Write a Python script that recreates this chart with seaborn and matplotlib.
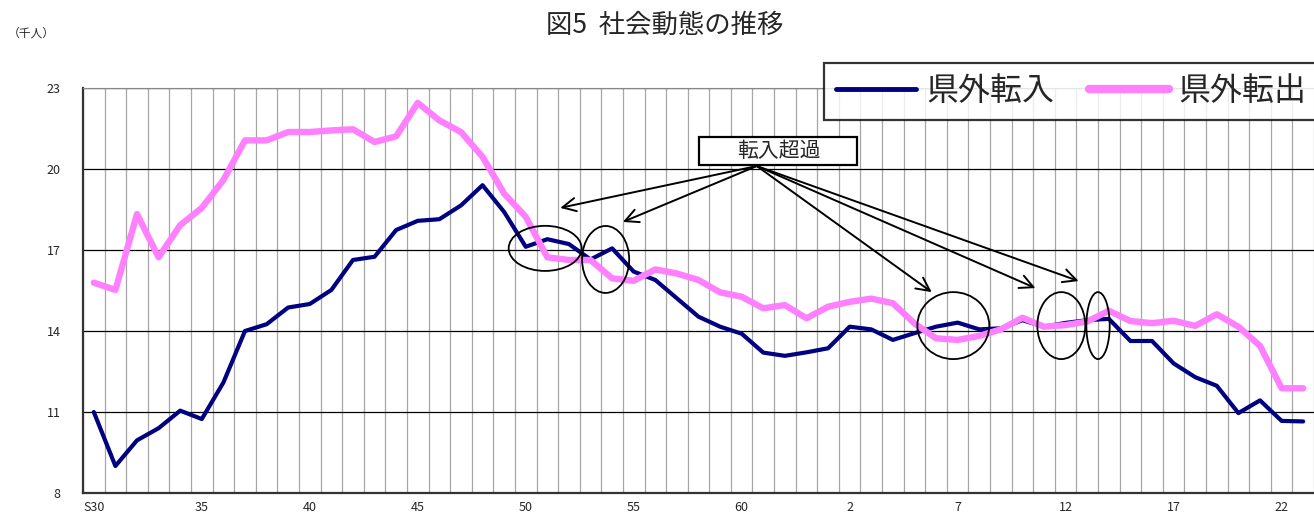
import numpy as np
import pandas as pd
import seaborn as sns
import matplotlib.pyplot as plt
from matplotlib.patches import Ellipse, Rectangle
from matplotlib.lines import Line2D

sns.set_style('white')
plt.rcParams['font.family'] = ['Noto Sans CJK JP', 'DejaVu Sans']
plt.rcParams['axes.unicode_minus'] = False

# 年次ラベル（S30〜S63, H1〜H23）
years = ['S30'] + [str(y) for y in range(31, 64)] + [str(y) for y in range(1, 24)]

# 県外転入（千人）
tennyu = [11.0, 9.0, 9.95, 10.4, 11.05, 10.74, 12.09, 14.0, 14.25, 14.87,
          15.0, 15.52, 16.63, 16.75, 17.74, 18.08, 18.14, 18.65, 19.4, 18.41,
          17.12, 17.4, 17.22, 16.65, 17.06, 16.2, 15.89, 15.21, 14.53, 14.16,
          13.9, 13.2, 13.08, 13.21, 13.36, 14.16, 14.06, 13.67, 13.92, 14.16,
          14.31, 14.06, 14.1, 14.4, 14.16, 14.3, 14.4, 14.45, 13.63, 13.63,
          12.8, 12.29, 11.97, 10.96, 11.43, 10.67, 10.65]

# 県外転出（千人）
tenshutsu = [15.79, 15.52, 18.33, 16.73, 17.92, 18.56, 19.59, 21.06, 21.06, 21.37,
             21.37, 21.43, 21.47, 21.0, 21.21, 22.45, 21.8, 21.37, 20.45, 19.09,
             18.23, 16.73, 16.63, 16.63, 15.95, 15.86, 16.28, 16.13, 15.89, 15.43,
             15.27, 14.84, 14.96, 14.47, 14.9, 15.08, 15.2, 15.03, 14.28, 13.73,
             13.67, 13.82, 14.06, 14.49, 14.16, 14.22, 14.35, 14.75, 14.37, 14.29,
             14.38, 14.19, 14.62, 14.16, 13.45, 11.88, 11.88]

df = pd.DataFrame({'idx': np.arange(len(years)), '転入': tennyu, '転出': tenshutsu})

fig = plt.figure(figsize=(13.14, 5.17), dpi=100)
ax = fig.add_axes([83 / 1314, 1 - 493 / 517, 1 - 83 / 1314, (493 - 88) / 517])

# 転出を上に重ねる（元図と同じ重なり順）
sns.lineplot(data=df, x='idx', y='転入', color='#000080', linewidth=3.0, ax=ax, zorder=3)
sns.lineplot(data=df, x='idx', y='転出', color='#FF80FF', linewidth=4.6, ax=ax, zorder=4)

ax.set_xlim(-0.5, len(years) - 0.5)
ax.set_ylim(8, 23)
ax.set_yticks([8, 11, 14, 17, 20, 23])
ax.set_xticks(np.arange(0, len(years), 5))
ax.set_xticklabels(years[::5])
ax.set_xticks(np.arange(-0.5, len(years), 1), minor=True)
ax.tick_params(axis='both', which='major', length=0, labelsize=9)
ax.tick_params(axis='x', which='major', pad=6)
ax.tick_params(axis='y', which='major', pad=16)
ax.tick_params(axis='x', which='minor', direction='in', length=4, width=1, color='#333333')
ax.grid(True, axis='x', which='minor', color='#A6A6A6', linewidth=0.9)
ax.grid(True, axis='y', which='major', color='black', linewidth=0.9)
ax.set_xlabel('')
ax.set_ylabel('')
for s in ['left', 'bottom']:
    ax.spines[s].set_color('#333333')
    ax.spines[s].set_linewidth(1.6)
ax.spines['top'].set_color('#888888')
ax.spines['right'].set_visible(False)

# 転入超過の注記
ax.add_patch(Rectangle((28.02, 20.15), 7.31, 1.04, fc='white', ec='black', lw=1.6, zorder=6))
ax.text(31.7, 20.67, '転入超過', ha='center', va='center', fontsize=15, zorder=7)
for tx, ty in [(21.6, 18.56), (24.5, 18.04), (38.8, 15.44), (43.6, 15.59), (45.6, 15.85)]:
    ax.annotate('', xy=(tx, ty), xytext=(30.7, 20.11),
                arrowprops=dict(arrowstyle='->', color='black', lw=1.4,
                                mutation_scale=24, shrinkA=0, shrinkB=0), zorder=5)
for cx, cy, w, h in [(20.9, 17.06, 3.38, 1.67), (23.7, 16.65, 2.18, 2.48),
                     (39.8, 14.2, 3.33, 2.48), (44.8, 14.2, 2.22, 2.48),
                     (46.5, 14.2, 1.08, 2.48)]:
    ax.add_patch(Ellipse((cx, cy), w, h, fill=False, ec='black', lw=1.3, zorder=5))

handles = [Line2D([], [], color='#000080', lw=3.5), Line2D([], [], color='#FF80FF', lw=6)]
leg = fig.legend(handles, ['県外転入', '県外転出'], loc='upper left',
                 bbox_to_anchor=(824 / 1314, 1 - 63 / 517), borderaxespad=0, ncol=2,
                 fontsize=23, frameon=True, fancybox=False, edgecolor='black',
                 handlelength=2.5, columnspacing=1.1, borderpad=0.39, handletextpad=0.3)
leg.get_frame().set_linewidth(1.6)

fig.text(665 / 1314, 1 - 25 / 517, '図5  社会動態の推移', ha='center', va='center',
         fontsize=19)
fig.text(8 / 1314, 1 - 33 / 517, '（千人）', ha='left', va='center', fontsize=8.5)

fig.savefig('out.png', dpi=100)
